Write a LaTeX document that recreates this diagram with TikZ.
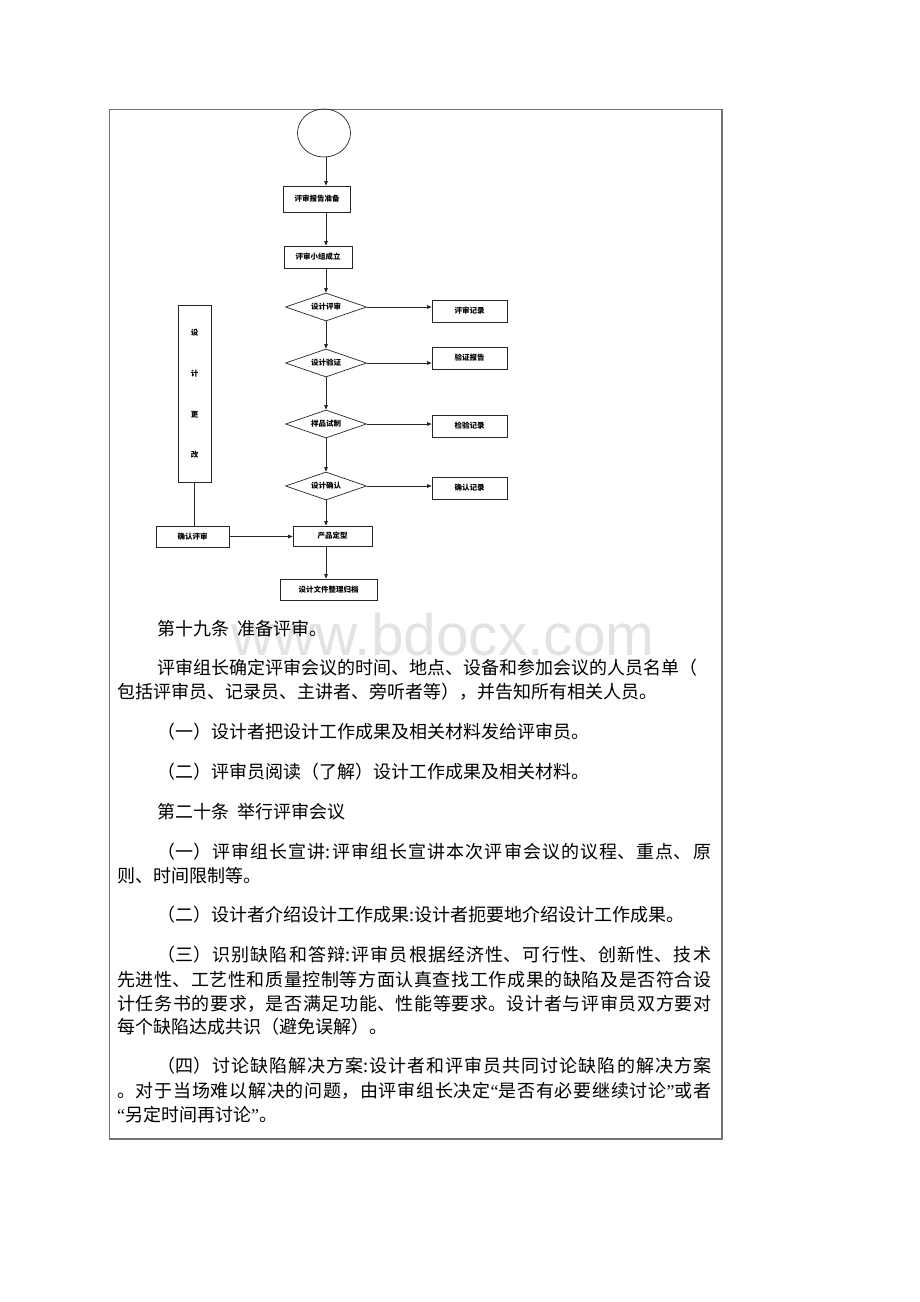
\documentclass[tikz,border=0pt]{standalone}
\usepackage{fontspec}
\setmainfont{Liberation Serif}
\newfontfamily\cjk{Noto Sans CJK SC}
\newfontfamily\wmfont{Liberation Sans}
\usetikzlibrary{arrows.meta,shapes.geometric}
\XeTeXlinebreaklocale "zh"
\XeTeXlinebreakskip=0pt plus 1fil
\newcommand\oq{{\rmfamily “}}
\newcommand\cq{{\rmfamily ”}}
\newcommand\jtext[1]{\parindent=0pt\parfillskip=0pt\relax #1}
\begin{document}
\begin{tikzpicture}[x=1pt,y=-1pt,
  body/.style={font=\cjk\fontsize{18pt}{22pt}\selectfont, inner sep=0pt, anchor=west, text height=15.8pt, text depth=2.2pt, text=black},
  jl/.style={body, text width=#1, align=justify},
  fc/.style={draw=black!85, line width=0.7pt, inner sep=0pt, font=\cjk\bfseries\fontsize{7.5pt}{9pt}\selectfont},
  bx/.style 2 args={fc, rectangle, minimum width=#1, minimum height=#2},
  dia/.style={fc, diamond, minimum width=81pt, minimum height=28pt, aspect=2.9},
  arr/.style={draw=black!85, line width=0.7pt, -{Triangle[length=4.5pt,width=3.5pt]}},
  ln/.style={draw=black!85, line width=0.7pt}]
\useasboundingbox (0,0) rectangle (920,1302);
\fill[white] (0,0) rectangle (920,1302);

% watermark
\node[font=\wmfont\fontsize{58.6pt}{60pt}\selectfont, text=black!11, inner sep=0pt, anchor=base west] (wm) at (231,655) {www.bdocx.com};

% frame
\draw[draw=black!55, line width=1.5pt] (109.5,109.5) rectangle (722,1139);

% flowchart
\coordinate (ax) at (326,0);
\node[fc, ellipse, minimum width=53pt, minimum height=48pt] (c) at (324,133) {};
\node[bx={67pt}{26pt}] (b1) at (317,199) {评审报告准备};
\node[bx={68pt}{22pt}] (b2) at (318,257) {评审小组成立};
\node[dia] (d1) at (326,307) {设计评审};
\node[dia] (d2) at (326,363) {设计验证};
\node[dia] (d3) at (326,424) {样品试制};
\node[dia] (d4) at (326,486) {设计确认};
\node[bx={75pt}{22pt}] (r1) at (469.5,311) {评审记录};
\node[bx={75pt}{22pt}] (r2) at (469.5,358) {验证报告};
\node[bx={75pt}{22pt}] (r3) at (469.5,426) {检验记录};
\node[bx={75pt}{22pt}] (r4) at (469.5,488) {确认记录};
\node[bx={33pt}{177pt}, align=center, font=\cjk\bfseries\fontsize{7.5pt}{40.7pt}\selectfont] (g) at (194.5,394) {设\\计\\更\\改};
\node[bx={73pt}{21pt}] (q) at (192.5,536.5) {确认评审};
\node[bx={79pt}{20pt}] (p) at (332.5,536) {产品定型};
\node[bx={97pt}{21pt}] (f) at (328.5,589.5) {设计文件整理归档};

\draw[arr] (c.south -| ax) -- (b1.north -| ax);
\draw[arr] (b1.south -| ax) -- (b2.north -| ax);
\draw[arr] (b2.south -| ax) -- (d1.north);
\draw[arr] (d1.south) -- (d2.north);
\draw[arr] (d2.south) -- (d3.north);
\draw[arr] (d3.south) -- (d4.north);
\draw[arr] (d4.south) -- (d4.south |- p.north);
\draw[arr] (p.south -| ax) -- (f.north -| ax);
\draw[arr] (d1.east) -- (d1.east -| r1.west);
\draw[arr] (d2.east) -- (d2.east -| r2.west);
\draw[arr] (d3.east) -- (d3.east -| r3.west);
\draw[arr] (d4.east) -- (d4.east -| r4.west);
\draw[ln] (g.south) -- (g.south |- q.north);
\draw[arr] (q.east) -- (q.east -| p.west);

% body text
\node[body] (t1) at (157,629) {第十九条\hspace{8pt}准备评审。};
\node[body] (t2) at (157,668) {评审组长确定评审会议的时间、地点、设备和参加会议的人员名单（};
\node[body] (t3) at (117,692) {包括评审员、记录员、主讲者、旁听者等），并告知所有相关人员。};
\node[body] (t4) at (157,732) {（一）设计者把设计工作成果及相关材料发给评审员。};
\node[body] (t5) at (157,772) {（二）评审员阅读（了解）设计工作成果及相关材料。};
\node[body] (t6) at (157,812) {第二十条\hspace{8pt}举行评审会议};
\node[jl=555pt] (t7) at (157,852) {\jtext{（一）评审组长宣讲:评审组长宣讲本次评审会议的议程、重点、原}};
\node[body] (t8) at (117,876) {则、时间限制等。};
\node[body] (t9) at (157,915) {（二）设计者介绍设计工作成果:设计者扼要地介绍设计工作成果。};
\node[jl=555pt] (t10) at (157,955) {\jtext{（三）识别缺陷和答辩:评审员根据经济性、可行性、创新性、技术}};
\node[jl=595pt] (t11) at (117,980) {\jtext{先进性、工艺性和质量控制等方面认真查找工作成果的缺陷及是否符合设}};
\node[jl=595pt] (t12) at (117,1004) {\jtext{计任务书的要求，是否满足功能、性能等要求。设计者与评审员双方要对}};
\node[body] (t13) at (117,1027) {每个缺陷达成共识（避免误解）。};
\node[jl=555pt] (t14) at (157,1066) {\jtext{（四）讨论缺陷解决方案:设计者和评审员共同讨论缺陷的解决方案}};
\node[jl=595pt] (t15) at (117,1091) {\jtext{。对于当场难以解决的问题，由评审组长决定\oq 是否有必要继续讨论\cq 或者}};
\node[body] (t16) at (117,1115) {\oq 另定时间再讨论\cq 。};
\end{tikzpicture}
\end{document}
